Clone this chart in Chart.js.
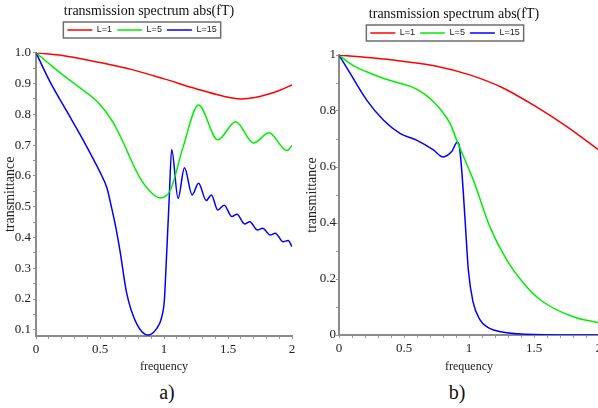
<!DOCTYPE html>
<html>
<head>
<meta charset="utf-8">
<script src="https://cdn.jsdelivr.net/npm/chart.js@4.4.1/dist/chart.umd.min.js"></script>
<style>
  html, body { margin: 0; padding: 0; background: #fff; }
  body { width: 598px; height: 408px; overflow: hidden; position: relative; }
  canvas { position: absolute; }
  #chartA { left: 0; top: 0; }
  #chartB { left: 300px; top: 3px; }
  .cap { position: absolute; top: 381px; width: 40px; line-height: 20px; text-align: center;
         font: 20px "Liberation Serif", "Times New Roman", serif; color: #111; }
</style>
</head>
<body>
<canvas id="chartA" width="300" height="376"></canvas>
<canvas id="chartB" width="310" height="373"></canvas>
<div class="cap" style="left:147px">a)</div>
<div class="cap" style="left:437px">b)</div>
<script>
// values
var seriesNames = ["L=1", "L=5", "L=15"];

// panel a)
var freqA1 = [0, 0.25, 0.5, 0.75, 1.0, 1.25, 1.45, 1.6, 1.75, 1.9, 2.0];
var transA1 = [1.0, 0.988, 0.968, 0.945, 0.915, 0.883, 0.86, 0.85, 0.858, 0.877, 0.895];

var freqA5 = [0, 0.12, 0.24, 0.37, 0.45, 0.52, 0.6, 0.68, 0.75, 0.81, 0.89, 0.97, 1.05, 1.15, 1.27, 1.42, 1.56, 1.70, 1.82, 1.96, 2.0];
var transA5 = [1.0, 0.958, 0.918, 0.878, 0.852, 0.822, 0.775, 0.71, 0.645, 0.595, 0.55, 0.528, 0.554, 0.695, 0.83, 0.717, 0.776, 0.707, 0.74, 0.682, 0.698];

var freqA15 = [0, 0.11, 0.24, 0.37, 0.5, 0.555, 0.578, 0.62, 0.656, 0.708, 0.786, 0.875, 0.942, 0.982, 1.003, 1.016, 1.04, 1.06,
  1.11, 1.16, 1.22, 1.27, 1.33, 1.37, 1.42, 1.47, 1.53, 1.57, 1.63, 1.67, 1.73, 1.77, 1.83, 1.87, 1.93, 1.97, 2.0];
var transA15 = [1.0, 0.905, 0.81, 0.715, 0.612, 0.56, 0.52, 0.44, 0.357, 0.22, 0.12, 0.083, 0.104, 0.141, 0.197, 0.305, 0.52, 0.686,
  0.527, 0.626, 0.538, 0.576, 0.52, 0.538, 0.489, 0.505, 0.468, 0.475, 0.444, 0.451, 0.424, 0.43, 0.408, 0.414, 0.386, 0.39, 0.37];

// panel b)
var freqB1 = [0, 0.25, 0.5, 0.75, 1.0, 1.25, 1.5, 1.75, 2.0];
var transB1 = [1.0, 0.99, 0.977, 0.96, 0.93, 0.885, 0.82, 0.745, 0.66];

var freqB5 = [0, 0.1, 0.213, 0.35, 0.47, 0.55, 0.62, 0.68, 0.726, 0.78, 0.854, 0.905, 1.033, 1.16, 1.29, 1.42, 1.55, 1.8, 2.0];
var transB5 = [1.0, 0.965, 0.94, 0.915, 0.899, 0.888, 0.872, 0.852, 0.833, 0.806, 0.756, 0.696, 0.554, 0.387, 0.268, 0.185, 0.125, 0.065, 0.044];

var freqB15 = [0, 0.085, 0.213, 0.341, 0.469, 0.6, 0.726, 0.8, 0.867, 0.91, 0.926, 0.944, 0.97, 0.995, 1.03, 1.085, 1.136, 1.19, 1.29, 1.5, 2.0];
var transB15 = [1.0, 0.935, 0.839, 0.768, 0.72, 0.695, 0.661, 0.636, 0.655, 0.688, 0.673, 0.589, 0.41, 0.232, 0.12, 0.054, 0.03, 0.018, 0.008, 0.002, 0.0];

// tick labels
var xTickLabels = [0, 0.5, 1, 1.5, 2];
var yTickLabelsA = [0.1, 0.2, 0.3, 0.4, 0.5, 0.6, 0.7, 0.8, 0.9, 1.0];
var yTickLabelsB = [0, 0.2, 0.4, 0.6, 0.8, 1];

var colors = ["#ff0000", "#00ee00", "#0000ff"];
var serif = '"Liberation Serif", "Times New Roman", serif';
var sans = '"Liberation Sans", Arial, sans-serif';

function pts(xs, ys) {
  return xs.map(function (x, i) { return { x: x, y: ys[i] }; });
}
function steps(from, to, step) {
  var out = [];
  for (var v = from; v <= to + 1e-9; v += step) out.push(Math.round(v * 1000) / 1000);
  return out;
}

// grey frame round the legend, and a small sideways nudge of it
var legendFrame = {
  id: "legendFrame",
  afterLayout: function (chart, args, opts) {
    chart.legend.left += opts.shift;
    chart.legend.right += opts.shift;
  },
  afterDraw: function (chart) {
    var hb = chart.legend.legendHitBoxes;
    if (!hb || !hb.length) return;
    var first = hb[0], last = hb[hb.length - 1];
    var x0 = first.left - 4, x1 = last.left + last.width + 4;
    var y0 = first.top - 3.5, y1 = first.top + first.height + 3.5;
    var ctx = chart.ctx;
    ctx.save();
    ctx.strokeStyle = "#6e6e6e";
    ctx.lineWidth = 1.5;
    ctx.strokeRect(x0, y0, x1 - x0, y1 - y0);
    ctx.restore();
  }
};

function buildPanel(id, series, yMin, yMax, yLabels, yMinor, yFmt, lay) {
  var xMinor = steps(0, 2, 0.1);
  return new Chart(document.getElementById(id), {
    type: "line",
    data: {
      datasets: series.map(function (s, i) {
        return {
          label: seriesNames[i],
          data: pts(s[0], s[1]),
          borderColor: colors[i],
          backgroundColor: colors[i],
          borderWidth: 1.5,
          pointRadius: 0,
          cubicInterpolationMode: "monotone",
          fill: false
        };
      })
    },
    options: {
      responsive: false,
      animation: false,
      devicePixelRatio: 1,
      layout: { padding: { left: lay.padLeft, right: lay.padRight, top: 0, bottom: 0 } },
      plugins: {
        title: {
          display: true,
          text: "transmission spectrum abs(fT)",
          color: "#111",
          font: { family: serif, size: 14, weight: "normal" },
          padding: { top: 3, bottom: 0.7 }
        },
        subtitle: {
          display: true,
          text: "",
          weight: 500,
          font: { size: 1, lineHeight: 1 },
          padding: { top: 0, bottom: lay.gap }
        },
        legend: {
          labels: {
            usePointStyle: true,
            pointStyle: "line",
            pointStyleWidth: 25,
            padding: 5,
            color: "#222",
            font: { family: sans, size: 9 }
          }
        },
        tooltip: { enabled: false },
        legendFrame: { shift: lay.legendShift }
      },
      scales: {
        x: {
          type: "linear",
          min: 0,
          max: 2,
          afterBuildTicks: function (s) { s.ticks = xMinor.map(function (v) { return { value: v }; }); },
          afterFit: function (s) { s.height = lay.xHeight; },
          ticks: {
            autoSkip: false,
            maxRotation: 0,
            padding: 3,
            color: "#222",
            font: { family: serif, size: 13 },
            callback: function (v) { return xTickLabels.indexOf(v) >= 0 ? String(v) : ""; }
          },
          grid: { drawOnChartArea: false, tickLength: 3, color: "#9a9a9a" },
          border: { color: "#8c8c8c", width: 2 },
          title: {
            display: true,
            text: "frequency",
            color: "#222",
            font: { family: serif, size: 12 },
            padding: { top: 0, bottom: 2 }
          }
        },
        y: {
          type: "linear",
          min: yMin,
          max: yMax,
          afterBuildTicks: function (s) { s.ticks = yMinor.map(function (v) { return { value: v }; }); },
          afterFit: function (s) { s.width = lay.yWidth; },
          ticks: {
            autoSkip: false,
            padding: lay.yTickPad,
            color: "#222",
            font: { family: serif, size: 13 },
            callback: function (v) { return yLabels.indexOf(v) >= 0 ? yFmt(v) : ""; }
          },
          grid: { drawOnChartArea: false, tickLength: 3, color: "#9a9a9a" },
          border: { color: "#8c8c8c", width: 2 },
          title: {
            display: true,
            text: "transmittance",
            color: "#222",
            font: { family: serif, size: 14 },
            padding: { top: lay.yTitlePad, bottom: 0 }
          }
        }
      }
    },
    plugins: [legendFrame]
  });
}

buildPanel("chartA",
  [[freqA1, transA1], [freqA5, transA5], [freqA15, transA15]],
  0.08, 1.0, yTickLabelsA, steps(0.1, 1.0, 0.05),
  function (v) { return v.toFixed(1); },
  { padLeft: 6, padRight: 8, gap: 7.2, legendShift: -7, xHeight: 40, yWidth: 30, yTickPad: 2, yTitlePad: -4.2 });

buildPanel("chartB",
  [[freqB1, transB1], [freqB5, transB5], [freqB15, transB15]],
  0, 1, yTickLabelsB, steps(0, 1, 0.1),
  function (v) { return String(v); },
  { padLeft: 9, padRight: 11, gap: 6.5, legendShift: -9, xHeight: 41, yWidth: 30, yTickPad: 0, yTitlePad: -5.4 });
</script>
</body>
</html>
